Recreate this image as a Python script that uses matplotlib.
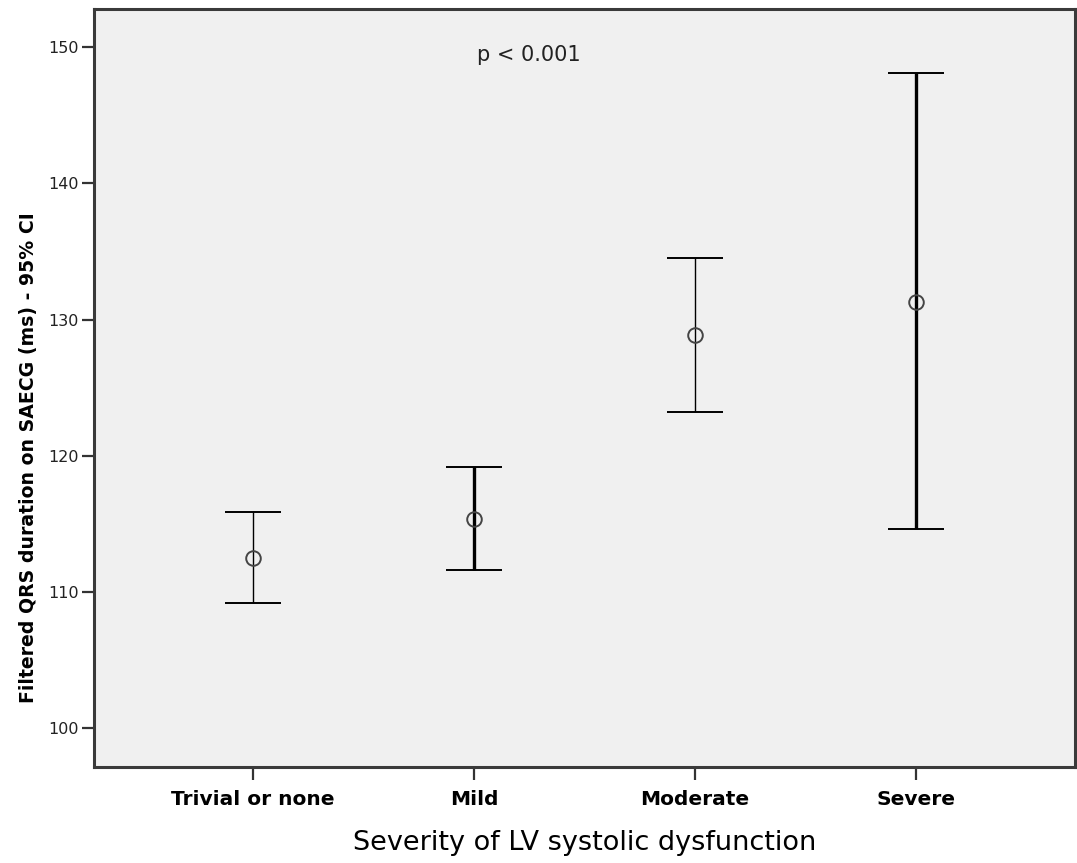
import matplotlib
matplotlib.use("Agg")
import matplotlib.pyplot as plt
import numpy as np

# severity groups and the 95% CI of filtered QRS duration (ms)
groups = ["Trivial or none", "Mild", "Moderate", "Severe"]
means = [112.5, 115.4, 128.9, 131.3]
ci_low = [109.2, 111.6, 123.2, 114.6]
ci_high = [115.9, 119.2, 134.5, 148.1]
y_ticks = [100, 110, 120, 130, 140, 150]

# stem widths differ between groups in the original chart
stem_lw = [1.0, 2.4, 1.0, 2.4]

plt.rcParams['font.family'] = ['DejaVu Sans']

fig = plt.figure(figsize=(10.77, 8.63), dpi=100)
ax = fig.add_axes([94 / 1077, (863 - 766.7) / 863, (1075 - 94) / 1077, (766.7 - 9) / 863])
ax.set_facecolor('#f0f0f0')

x = np.arange(len(groups))
for i in range(len(groups)):
    ax.errorbar(x[i], means[i],
                yerr=[[means[i] - ci_low[i]], [ci_high[i] - means[i]]],
                fmt='o', ms=10.5, mfc='none', mec='#444444', mew=1.4,
                ecolor='black', elinewidth=stem_lw[i], capsize=20, capthick=2.4,
                zorder=3)

ax.set_xlim(-0.72, 3.72)
ax.set_ylim(97.18, 152.81)
ax.set_xticks(x)
ax.set_xticklabels(groups, fontsize=14.5, fontweight='bold')
ax.set_yticks(y_ticks)
ax.set_yticklabels([str(v) for v in y_ticks], fontsize=11.5, color='#222222')
ax.tick_params(axis='both', direction='out', length=9, width=1.6, color='#333333')
ax.tick_params(axis='x', pad=8)
ax.tick_params(axis='y', pad=2)

for s in ax.spines.values():
    s.set_color('#3a3a3a')
    s.set_linewidth(2.2)

ax.set_xlabel("Severity of LV systolic dysfunction", fontsize=19.5)
ax.xaxis.set_label_coords(0.5, -0.084)
ax.set_ylabel("Filtered QRS duration on SAECG (ms) - 95% CI", fontsize=13.6, fontweight='bold')
ax.yaxis.set_label_coords(-0.057, 0.408)

ax.text(1.25, 149.4, "p < 0.001", fontsize=15, ha='center', va='center', color='#222222')

fig.savefig("out.png", dpi=100)
